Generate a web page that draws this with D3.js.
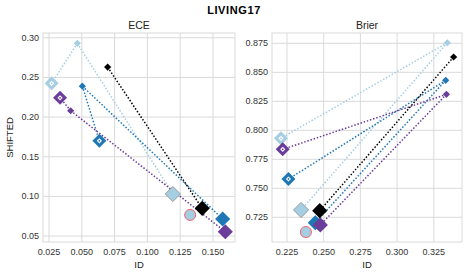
<!DOCTYPE html>
<html>
<head>
<meta charset="utf-8">
<script src="https://cdn.jsdelivr.net/npm/d3@7"></script>
<style>
  body { margin: 0; background: #fff; }
  svg { font-family: "Liberation Sans", Arial, sans-serif; }
</style>
</head>
<body>
<svg id="vis" width="469" height="276"></svg>
<script>
const svg = d3.select("#vis");

// series: colour, small start marker, hollow-centred marker, end marker
const seriesNames = ["light", "mid", "purple", "black"];
const seriesColors = ["#a6cee3", "#1f78b4", "#6a3d9a", "#000000"];

// ECE panel values [x, y]
const eceStart = [[0.0466, 0.293], [0.0504, 0.239], [0.0415, 0.208], [0.0697, 0.263]];
const eceMid = [[0.0270, 0.2425], [0.0634, 0.170], [0.0334, 0.2243], null];
const eceEnd = [[0.1194, 0.103], [0.1574, 0.0715], [0.1594, 0.0554], [0.1418, 0.0849]];
const eceCircle = [0.1326, 0.0766];
const eceXTicks = [0.025, 0.050, 0.075, 0.100, 0.125, 0.150];
const eceYTicks = [0.05, 0.10, 0.15, 0.20, 0.25, 0.30];

// Brier panel values [x, y]
const brierStart = [[0.3342, 0.8755], [0.3331, 0.8431], [0.3336, 0.831], [0.3385, 0.8632]];
const brierMid = [[0.2209, 0.7931], [0.2260, 0.758], [0.2221, 0.7836], null];
const brierEnd = [[0.2346, 0.7313], [0.2443, 0.7203], [0.2477, 0.7184], [0.2473, 0.7307]];
const brierCircle = [0.2379, 0.7123];
const brierXTicks = [0.225, 0.250, 0.275, 0.300, 0.325];
const brierYTicks = [0.725, 0.750, 0.775, 0.800, 0.825, 0.850, 0.875];

const panels = [
  { title: "ECE", left: 43, right: 235, xDom: [0.0204, 0.1668], yDom: [0.0425, 0.306],
    start: eceStart, mid: eceMid, end: eceEnd, circle: eceCircle,
    xTicks: eceXTicks, yTicks: eceYTicks, xFmt: ".3f", yFmt: ".2f", ylabel: "SHIFTED" },
  { title: "Brier", left: 272, right: 462, xDom: [0.2148, 0.3442], yDom: [0.7037, 0.8839],
    start: brierStart, mid: brierMid, end: brierEnd, circle: brierCircle,
    xTicks: brierXTicks, yTicks: brierYTicks, xFmt: ".3f", yFmt: ".3f", ylabel: null }
];

const plotTop = 33, plotBottom = 242;
const grid = "#dadada";

function diamond(g, cx, cy, r, fill, stroke) {
  g.append("path")
    .attr("d", `M${cx},${cy - r}L${cx + r},${cy}L${cx},${cy + r}L${cx - r},${cy}Z`)
    .attr("fill", fill)
    .attr("stroke", stroke || "none")
    .attr("stroke-width", 0.8);
}

svg.append("text")
  .attr("x", 234).attr("y", 14)
  .attr("text-anchor", "middle")
  .attr("font-size", 11).attr("font-weight", "bold")
  .attr("letter-spacing", 0.6)
  .text("LIVING17");

panels.forEach(p => {
  const x = d3.scaleLinear().domain(p.xDom).range([p.left, p.right]);
  const y = d3.scaleLinear().domain(p.yDom).range([plotBottom, plotTop]);
  const g = svg.append("g");

  // grid
  g.selectAll(".gx").data(p.xTicks).join("line")
    .attr("x1", d => x(d)).attr("x2", d => x(d))
    .attr("y1", plotTop).attr("y2", plotBottom)
    .attr("stroke", grid).attr("stroke-width", 1);
  g.selectAll(".gy").data(p.yTicks).join("line")
    .attr("x1", p.left).attr("x2", p.right)
    .attr("y1", d => y(d)).attr("y2", d => y(d))
    .attr("stroke", grid).attr("stroke-width", 1);
  g.append("rect")
    .attr("x", p.left).attr("y", plotTop)
    .attr("width", p.right - p.left).attr("height", plotBottom - plotTop)
    .attr("fill", "none").attr("stroke", grid).attr("stroke-width", 1);

  // tick labels
  g.selectAll(".tx").data(p.xTicks).join("text")
    .attr("x", d => x(d)).attr("y", plotBottom + 13)
    .attr("text-anchor", "middle").attr("font-size", 9).attr("fill", "#333")
    .text(d => d3.format(p.xFmt)(d));
  g.selectAll(".ty").data(p.yTicks).join("text")
    .attr("x", p.left - 4).attr("y", d => y(d) + 3)
    .attr("text-anchor", "end").attr("font-size", 9).attr("fill", "#333")
    .text(d => d3.format(p.yFmt)(d));

  g.append("text")
    .attr("x", (p.left + p.right) / 2).attr("y", 29)
    .attr("text-anchor", "middle").attr("font-size", 10.5).attr("fill", "#222")
    .text(p.title);
  g.append("text")
    .attr("x", (p.left + p.right) / 2).attr("y", 268)
    .attr("text-anchor", "middle").attr("font-size", 9.5).attr("fill", "#222")
    .text("ID");
  if (p.ylabel) {
    g.append("text")
      .attr("transform", `translate(13,${(plotTop + plotBottom) / 2}) rotate(-90)`)
      .attr("text-anchor", "middle").attr("font-size", 9.5).attr("fill", "#222")
      .text(p.ylabel);
  }

  // dotted connecting lines
  seriesNames.forEach((s, i) => {
    const c = seriesColors[i];
    const targets = [p.mid[i], p.end[i]].filter(t => t);
    targets.forEach(t => {
      g.append("line")
        .attr("x1", x(p.start[i][0])).attr("y1", y(p.start[i][1]))
        .attr("x2", x(t[0])).attr("y2", y(t[1]))
        .attr("stroke", c).attr("stroke-width", 1.5)
        .attr("stroke-dasharray", "1.5,1.8");
    });
  });

  // markers
  seriesNames.forEach((s, i) => {
    const c = seriesColors[i];
    diamond(g, x(p.start[i][0]), y(p.start[i][1]), 3.6, c);
    if (p.mid[i]) {
      const mx = x(p.mid[i][0]), my = y(p.mid[i][1]);
      diamond(g, mx, my, 7, c);
      diamond(g, mx, my, 2.6, "#fff");
      g.append("circle").attr("cx", mx).attr("cy", my).attr("r", 0.9).attr("fill", c);
    }
  });
  seriesNames.forEach((s, i) => {
    const c = seriesColors[i];
    diamond(g, x(p.end[i][0]), y(p.end[i][1]), 7.6, c, i === 0 ? "#888" : null);
  });
  g.append("circle")
    .attr("cx", x(p.circle[0])).attr("cy", y(p.circle[1])).attr("r", 5.5)
    .attr("fill", "#a6cee3").attr("stroke", "#f0606a").attr("stroke-width", 1);
});
</script>
</body>
</html>
